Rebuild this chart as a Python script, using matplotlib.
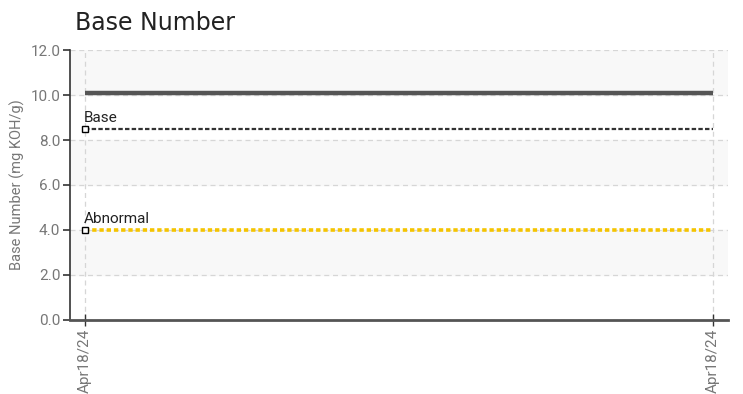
import matplotlib
matplotlib.use("Agg")
import matplotlib.pyplot as plt
from matplotlib import font_manager

dates = ["Apr18/24", "Apr18/24"]
base_number = [10.1, 10.1]
base_limit = [8.5, 8.5]
abnormal_limit = [4.0, 4.0]
yticks = [0.0, 2.0, 4.0, 6.0, 8.0, 10.0, 12.0]

names = {f.name for f in font_manager.fontManager.ttflist}
narrow = "Liberation Sans Narrow" if "Liberation Sans Narrow" in names else "Roboto"

fig = plt.figure(figsize=(7.43, 3.94), dpi=100)
ax = fig.add_axes([0.0942, 0.188, 0.886, 0.685])

x = list(range(len(dates)))

# alternating bands
for lo in range(0, 12, 4):
    ax.axhspan(lo + 2, lo + 4, color="#f8f8f8", zorder=0)

ax.plot(x, base_number, color="#555555", lw=3.2, solid_capstyle="butt", zorder=3)
ax.plot(x, base_limit, color="#333333", lw=1.6, dashes=(2.0, 1.0), zorder=3)
ax.plot(x, abnormal_limit, color="#f5c400", lw=2.6, dashes=(1.2, 0.8), zorder=3)

for vals, lab in [(base_limit, "Base"), (abnormal_limit, "Abnormal")]:
    ax.plot(x[0], vals[0], marker="s", ms=5, mfc="white", mec="black", mew=1.0, zorder=4)
    ax.annotate(lab, (x[0], vals[0]), xytext=(-1, 3), textcoords="offset points",
                fontsize=11, family=narrow, color="#222222", va="bottom", ha="left")

ax.set_ylim(0, 12)
ax.set_xlim(-0.024, 1.024)
ax.set_yticks(yticks)
ax.set_yticklabels([f"{v:.1f}" for v in yticks], family=narrow, fontsize=11, color="#777777")
ax.set_xticks(x)
ax.set_xticklabels(dates, rotation=90, family=narrow, fontsize=11, color="#777777")

ax.grid(True, color="#d6d6d6", ls=(0, (4, 3)), lw=0.9)
ax.set_axisbelow(True)

for s in ["top", "right"]:
    ax.spines[s].set_visible(False)
ax.spines["left"].set_color("#333333")
ax.spines["left"].set_linewidth(1.2)
ax.spines["bottom"].set_color("#555555")
ax.spines["bottom"].set_linewidth(2)
ax.tick_params(axis="y", length=5, width=1.2, color="#333333", pad=2)
ax.tick_params(axis="x", direction="inout", length=8, width=1, color="#333333", pad=2)

ax.set_ylabel("Base Number (mg KOH/g)", family=narrow, fontsize=10.5, color="#777777", labelpad=4)
fig.text(0.101, 0.91, "Base Number", fontsize=17, color="#222222", ha="left", va="bottom")

fig.savefig("out.png", dpi=100)
